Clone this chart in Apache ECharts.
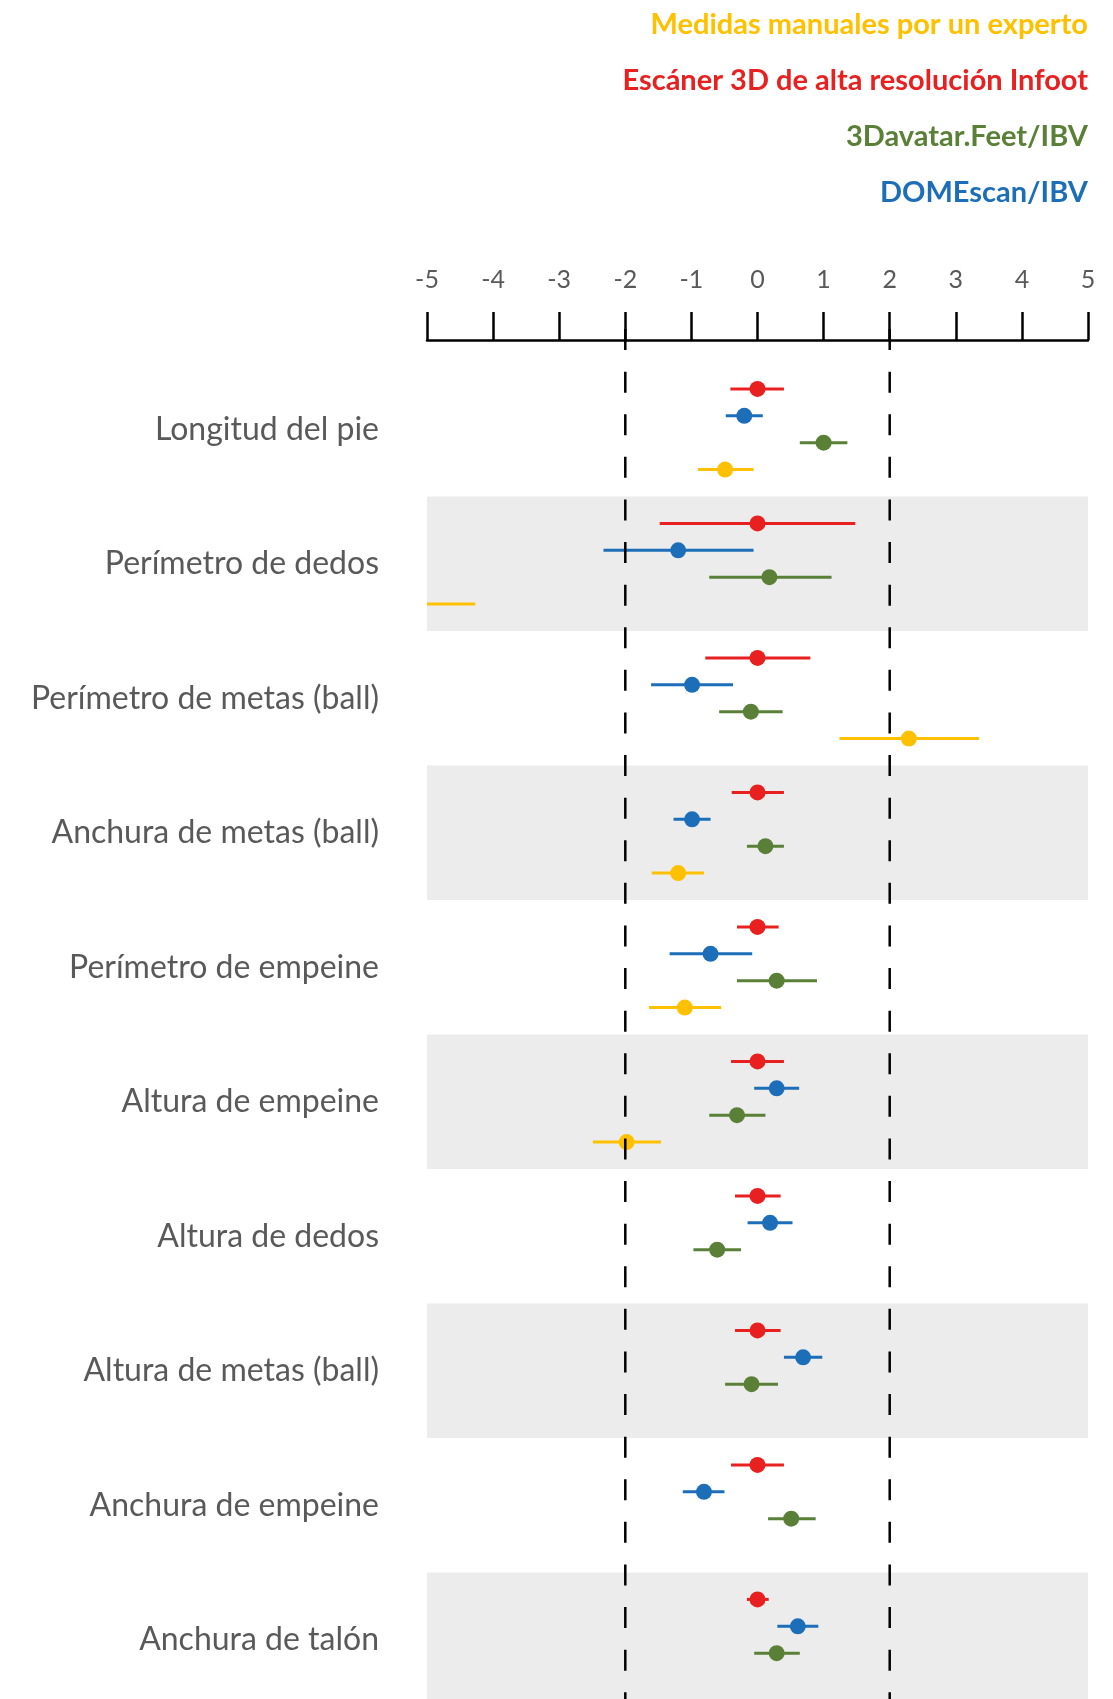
<!DOCTYPE html>
<html>
<head>
<meta charset="utf-8">
<script src="https://cdn.jsdelivr.net/npm/echarts@6/dist/echarts.min.js"></script>
<style>
html,body{margin:0;padding:0;background:#fff;}
#chart{width:1113px;height:1699px;}
</style>
</head>
<body>
<div id="chart"></div>
<script>
// ---------- data ----------
const categories = [
  'Longitud del pie',
  'Perímetro de dedos',
  'Perímetro de metas (ball)',
  'Anchura de metas (ball)',
  'Perímetro de empeine',
  'Altura de empeine',
  'Altura de dedos',
  'Altura de metas (ball)',
  'Anchura de empeine',
  'Anchura de talón'
];
const tickLabels = ['-5','-4','-3','-2','-1','0','1','2','3','4','5'];
const limitLines = [-2, 2];

const methodNames = [
  'Escáner 3D de alta resolución Infoot',
  'DOMEscan/IBV',
  '3Davatar.Feet/IBV',
  'Medidas manuales por un experto'
];
const legendOrder = [
  'Medidas manuales por un experto',
  'Escáner 3D de alta resolución Infoot',
  '3Davatar.Feet/IBV',
  'DOMEscan/IBV'
];

// Escáner 3D Infoot (red)
const infootMean = [0, 0, 0, 0, 0, 0, 0, 0, 0, 0];
const infootLow  = [-0.41, -1.48, -0.79, -0.39, -0.31, -0.40, -0.34, -0.34, -0.40, -0.16];
const infootHigh = [0.40, 1.48, 0.80, 0.40, 0.32, 0.40, 0.35, 0.35, 0.40, 0.17];

// DOMEscan/IBV (blue)
const domeMean = [-0.20, -1.20, -0.99, -0.99, -0.71, 0.29, 0.19, 0.69, -0.81, 0.61];
const domeLow  = [-0.48, -2.33, -1.61, -1.27, -1.33, -0.05, -0.15, 0.40, -1.13, 0.30];
const domeHigh = [0.08, -0.06, -0.37, -0.71, -0.08, 0.63, 0.53, 0.98, -0.50, 0.92];

// 3Davatar.Feet/IBV (green)
const avatarMean = [1.00, 0.18, -0.10, 0.12, 0.29, -0.31, -0.61, -0.09, 0.51, 0.29];
const avatarLow  = [0.64, -0.73, -0.58, -0.16, -0.31, -0.73, -0.97, -0.49, 0.16, -0.05];
const avatarHigh = [1.36, 1.12, 0.38, 0.40, 0.90, 0.12, -0.25, 0.31, 0.88, 0.64];

// Medidas manuales (yellow)
const manualMean = [-0.49, -5.60, 2.29, -1.20, -1.10, -1.98, null, null, null, null];
const manualLow  = [-0.90, -6.90, 1.24, -1.60, -1.64, -2.49, null, null, null, null];
const manualHigh = [-0.06, -4.27, 3.35, -0.81, -0.55, -1.46, null, null, null, null];

// ---------- styling ----------
const colors = {
  'Escáner 3D de alta resolución Infoot': '#E8201F',
  'DOMEscan/IBV': '#1D6EB8',
  '3Davatar.Feet/IBV': '#5A8038',
  'Medidas manuales por un experto': '#FFC000'
};
const slotOffsets = [0.2, 0.4, 0.6, 0.8];
const FONT = 'Lato, "Open Sans", sans-serif';

const methodData = [
  [infootMean, infootLow, infootHigh],
  [domeMean, domeLow, domeHigh],
  [avatarMean, avatarLow, avatarHigh],
  [manualMean, manualLow, manualHigh]
];

const chart = echarts.init(document.getElementById('chart'), null, {renderer: 'canvas'});

function errRender(params, api) {
  const lo = api.value(0), hi = api.value(1), y = api.value(2);
  const p1 = api.coord([lo, y]);
  const p2 = api.coord([hi, y]);
  const h = 3;
  const rect = echarts.graphic.clipRectByRect(
    {x: p1[0], y: p1[1] - h / 2, width: p2[0] - p1[0], height: h},
    {x: params.coordSys.x, y: params.coordSys.y, width: params.coordSys.width, height: params.coordSys.height}
  );
  if (!rect) return;
  return {type: 'rect', shape: rect, style: {fill: api.visual('color')}};
}

function refRender(params, api) {
  const x = api.value(0);
  const top = api.coord([x, -0.245]);
  const bottom = api.coord([x, 10]);
  return {
    type: 'line',
    shape: {x1: top[0], y1: top[1], x2: bottom[0], y2: bottom[1]},
    style: {stroke: '#000', lineWidth: 2.5, lineDash: [21, 21.6], fill: null}
  };
}

const series = [];
methodNames.forEach((name, k) => {
  const [mean, low, high] = methodData[k];
  const errs = [], pts = [];
  categories.forEach((c, i) => {
    if (mean[i] === null) return;
    errs.push([low[i], high[i], i + slotOffsets[k]]);
    pts.push([mean[i], i + slotOffsets[k]]);
  });
  series.push({
    type: 'custom', name: name, xAxisIndex: 0, yAxisIndex: 1,
    renderItem: errRender, data: errs, clip: true, silent: true,
    itemStyle: {color: colors[name]}, z: 3,
    encode: {x: [0, 1], y: 2}
  });
  series.push({
    type: 'scatter', name: name, xAxisIndex: 0, yAxisIndex: 1,
    data: pts, symbol: 'circle', symbolSize: 16, clip: true, silent: true,
    itemStyle: {color: colors[name], opacity: 1}, z: 4
  });
});

// dashed reference lines at ±2
series.push({
  type: 'custom', name: 'limits', xAxisIndex: 0, yAxisIndex: 1,
  renderItem: refRender, data: limitLines.map(v => [v]), clip: false,
  silent: true, z: 6, encode: {x: 0}
});

const option = {
  animation: false,
  backgroundColor: '#ffffff',
  legend: {
    orient: 'vertical', right: 15, top: 5,
    align: 'right',
    itemWidth: 0, itemHeight: 0, itemGap: 26,
    selectedMode: false,
    textStyle: {fontFamily: FONT, fontSize: 29, fontWeight: 'bold', lineHeight: 30},
    data: legendOrder.map(n => ({name: n, icon: 'rect', textStyle: {color: colors[n]}}))
  },
  grid: {left: 427, right: 25, top: 362, height: 1345, containLabel: false, outerBoundsMode: 'none'},
  xAxis: {
    type: 'value', min: -5, max: 5, interval: 1, position: 'top', offset: 22,
    axisLine: {show: true, onZero: false, lineStyle: {color: '#000', width: 2.5}},
    axisTick: {show: true, length: 28, lineStyle: {color: '#000', width: 2.5}},
    axisLabel: {
      color: '#595959', fontFamily: FONT, fontSize: 25, margin: 48,
      formatter: v => tickLabels[Math.round(v + 5)]
    },
    splitLine: {show: false}
  },
  yAxis: [
    {
      type: 'category', data: categories, inverse: true,
      axisLine: {show: false}, axisTick: {show: false},
      axisLabel: {color: '#595959', fontFamily: FONT, fontSize: 32, margin: 48},
      splitLine: {show: false},
      splitArea: {show: true, areaStyle: {color: ['rgba(255,255,255,0)', '#ececec']}}
    },
    {
      type: 'value', min: 0, max: 10, inverse: true, show: false
    }
  ],
  series: series
};
chart.setOption(option);
</script>
</body>
</html>
